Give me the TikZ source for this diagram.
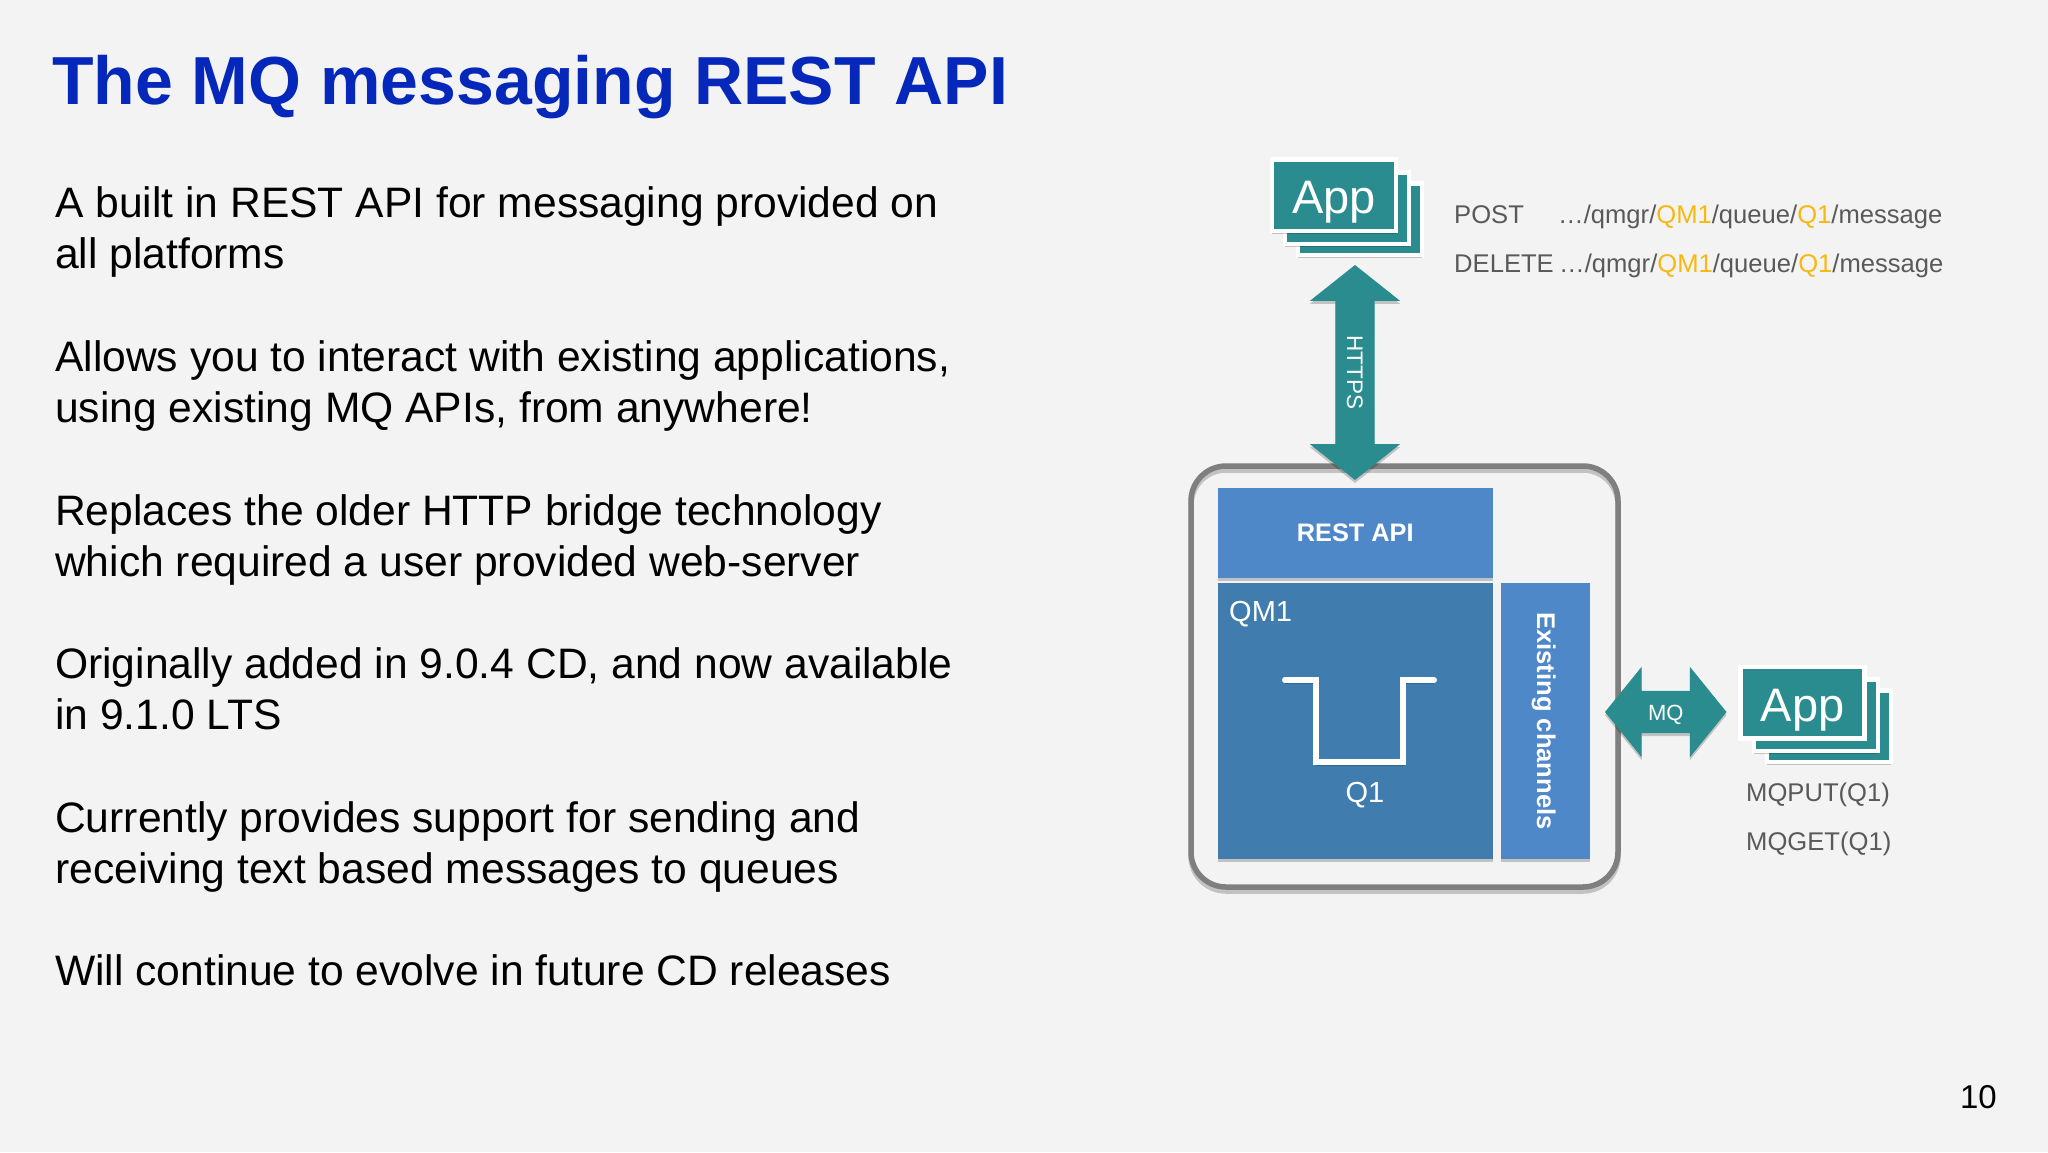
\documentclass[tikz,border=0pt]{standalone}
\usepackage{fontspec}
\setmainfont{Liberation Sans}
\usetikzlibrary{shapes.arrows,shadows}
\definecolor{pagebg}{HTML}{F3F3F4}
\definecolor{titleblue}{HTML}{0528BA}
\definecolor{tealc}{HTML}{2B8C90}
\definecolor{restblue}{HTML}{4F88C8}
\definecolor{qmblue}{HTML}{417CAE}
\definecolor{labelgray}{HTML}{595959}
\definecolor{framegray}{HTML}{7F7F7F}
\definecolor{qorange}{HTML}{F7B90F}
\newcommand{\fs}[1]{\fontsize{#1}{#1}\selectfont}
\newcommand{\qm}[1]{\textcolor{qorange}{#1}}
\tikzset{
  softshadow/.style={general shadow={shadow xshift=0pt,shadow yshift=-3pt,fill=black,opacity=.2}},
  para/.style={anchor=north west,inner sep=0pt,align=left,text=black,font=\fontsize{42.6}{51}\selectfont},
  card/.style={draw=white,line width=4.5pt,fill=tealc,inner sep=0pt,minimum width=124pt,minimum height=71.5pt,softshadow},
  block/.style={inner sep=0pt,text=white,softshadow},
  req/.style={anchor=base west,inner sep=0pt,text=labelgray,font=\fs{25.6}},
  bigarrow/.style={double arrow,fill=tealc,inner xsep=0pt,text=white,text height=16pt,text depth=0pt,softshadow},
}
\begin{document}
\begin{tikzpicture}[x=1pt,y=-1pt]
\useasboundingbox[fill=pagebg] (0,0) rectangle (2048,1152);

\node[anchor=base west,inner sep=0pt,text=titleblue,font=\fs{68}\bfseries] (title) at (52,104) {The MQ messaging REST API};

\node[para] (p1) at (55,186.5) {A built in REST API for messaging provided on\\all platforms};
\node[para] (p2) at (55,340) {Allows you to interact with existing applications,\\using existing MQ APIs, from anywhere!};
\node[para] (p3) at (55,494) {Replaces the older HTTP bridge technology\\which required a user provided web-server};
\node[para] (p4) at (55,647) {Originally added in 9.0.4 CD, and now available\\in 9.1.0 LTS};
\node[para] (p5) at (55,801) {Currently provides support for sending and\\receiving text based messages to queues};
\node[para] (p6) at (55,954.5) {Will continue to evolve in future CD releases};

\node[anchor=base east,inner sep=0pt,font=\fs{33}] (pagenum) at (1997,1108) {10};

% Queue manager frame
\draw[draw=black,opacity=.2,line width=5.5pt,rounded corners=35pt] (1191,470) rectangle (1618,891);
\node[draw=framegray,line width=5.5pt,rounded corners=35pt,minimum width=427pt,minimum height=421pt,inner sep=0pt] (frame) at (1404.5,676.5) {};

\node[block,fill=restblue,minimum width=275.5pt,minimum height=90pt,font=\fs{25.3}\bfseries] (rest) at (1355.25,532.5) {REST API};
\node[block,fill=qmblue,minimum width=275.5pt,minimum height=276pt] (qm) at (1355.25,721) {};
\node[block,fill=restblue,minimum width=89.5pt,minimum height=276pt,font=\fs{25.6}\bfseries] (chan) at (1545.25,721) {\hspace{-3pt}\rotatebox{-90}{Existing channels}};

\node[anchor=base west,inner sep=0pt,text=white,font=\fs{29}] (qmlabel) at (1229,621) {QM1};
\draw[white,line width=6pt,line cap=round,line join=miter,general shadow={shadow xshift=0pt,shadow yshift=-3pt,fill=none,draw=black,opacity=.2}] (1285,680) -- (1316,680) -- (1316,762) -- (1403,762) -- (1403,680) -- (1434,680);
\node[anchor=base,inner sep=0pt,text=white,font=\fs{29}] (q1label) at (1365,802) {Q1};

% Top application stack
\node[card] (app1c) at (1360,219) {};
\node[card] (app1b) at (1347,208) {};
\node[card,text=white,font=\fs{47},text height=37pt,text depth=0pt] (app1a) at (1334,195) {App};

% Right application stack
\node[card] (app2c) at (1829,726) {};
\node[card] (app2b) at (1816,715) {};
\node[card,text=white,font=\fs{47},text height=37pt,text depth=0pt] (app2a) at (1802.5,702.5) {App};

% Connectors
\node[bigarrow,rotate=-90,inner ysep=11.5pt,minimum height=215pt,minimum width=90pt,double arrow head extend=25.5pt,double arrow tip angle=103,font=\fs{22.5}] (https) at (1355,372.5) {HTTPS};
\node[bigarrow,inner ysep=13pt,minimum height=121.5pt,minimum width=90pt,double arrow head extend=24pt,double arrow tip angle=102,font=\fs{22}] (mq) at (1665.75,712) {MQ};

% Request labels
\node[req] (post) at (1454,223) {POST};
\node[req] (postpath) at (1558,223) {…/qmgr/\qm{QM1}/queue/\qm{Q1}/message};
\node[req] (del) at (1454,272) {DELETE};
\node[req] (delpath) at (1559,272) {…/qmgr/\qm{QM1}/queue/\qm{Q1}/message};
\node[req] (put) at (1746,801) {MQPUT(Q1)};
\node[req] (get) at (1746,850) {MQGET(Q1)};
\end{tikzpicture}
\end{document}
